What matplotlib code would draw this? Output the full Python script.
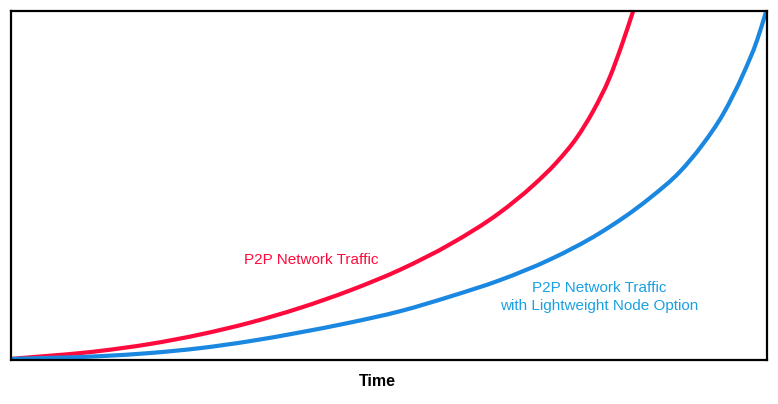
import matplotlib.pyplot as plt
import numpy as np
from matplotlib.path import Path
from matplotlib.patches import PathPatch

plt.rcParams['font.family'] = ['Liberation Sans', 'DejaVu Sans']

# time axis and traffic level (0-100)
time_p2p = [0.0, 11.8, 18.4, 25.0, 31.6, 38.2, 44.8, 51.5, 58.1, 64.7,
            69.0, 72.2, 74.9, 77.0, 79.2, 80.8, 82.3]
traffic_p2p = [0.3, 2.6, 4.6, 7.3, 10.7, 14.9, 19.9, 25.9, 33.2, 42.3,
               49.9, 56.7, 63.9, 71.3, 81.0, 90.3, 100.0]

time_light = [0.0, 11.8, 18.4, 25.0, 31.6, 38.2, 44.8, 51.5, 58.1, 64.7,
              71.3, 77.9, 84.5, 88.5, 91.4, 94.2, 96.8, 98.7, 99.9]
traffic_light = [0.3, 1.1, 2.0, 3.4, 5.4, 7.9, 10.7, 14.0, 18.2, 22.9,
                 28.8, 36.4, 46.4, 54.0, 61.5, 70.5, 81.7, 91.7, 100.0]

red = '#ff0a3c'
blue = '#1a87e0'
blue_text = '#1ba1e2'


def smooth_path(xs, ys):
    # cubic hermite through the read points (slopes from neighbours), as bezier segments
    x = np.asarray(xs, float)
    y = np.asarray(ys, float)
    h = np.diff(x)
    d = np.diff(y) / h
    m = np.empty_like(y)
    m[0], m[-1] = d[0], d[-1]
    m[1:-1] = (d[:-1] * h[1:] + d[1:] * h[:-1]) / (h[:-1] + h[1:])
    verts = [(x[0], y[0])]
    codes = [Path.MOVETO]
    for i in range(len(x) - 1):
        verts += [(x[i] + h[i] / 3, y[i] + m[i] * h[i] / 3),
                  (x[i + 1] - h[i] / 3, y[i + 1] - m[i + 1] * h[i] / 3),
                  (x[i + 1], y[i + 1])]
        codes += [Path.CURVE4] * 3
    return Path(verts, codes)


W, H = 778, 404
fig = plt.figure(figsize=(W / 100, H / 100), dpi=100)
ax = fig.add_axes([11 / W, (H - 360) / H, 756 / W, 349 / H])

for xs, ys, c in [(time_p2p, traffic_p2p, red), (time_light, traffic_light, blue)]:
    ax.add_patch(PathPatch(smooth_path(xs, ys), fill=False, edgecolor=c,
                           lw=3, joinstyle='round', capstyle='round'))

ax.set_xlim(0, 100)
ax.set_ylim(0, 100)
ax.set_xticks([])
ax.set_yticks([])
for s in ax.spines.values():
    s.set_linewidth(1.6)
    s.set_color('black')
    s.set_zorder(1)

ax.text(39.7, 28.7, 'P2P Network Traffic', color=red, fontsize=11,
        ha='center', va='center')
ax.text(77.8, 18.0, 'P2P Network Traffic\nwith Lightweight Node Option',
        color=blue_text, fontsize=11, ha='center', va='center', linespacing=1.4)

fig.text(377 / W, 1 - 382 / H, 'Time', fontsize=11.5, fontweight='bold',
         ha='center', va='center')

fig.savefig('out.png', dpi=100)
